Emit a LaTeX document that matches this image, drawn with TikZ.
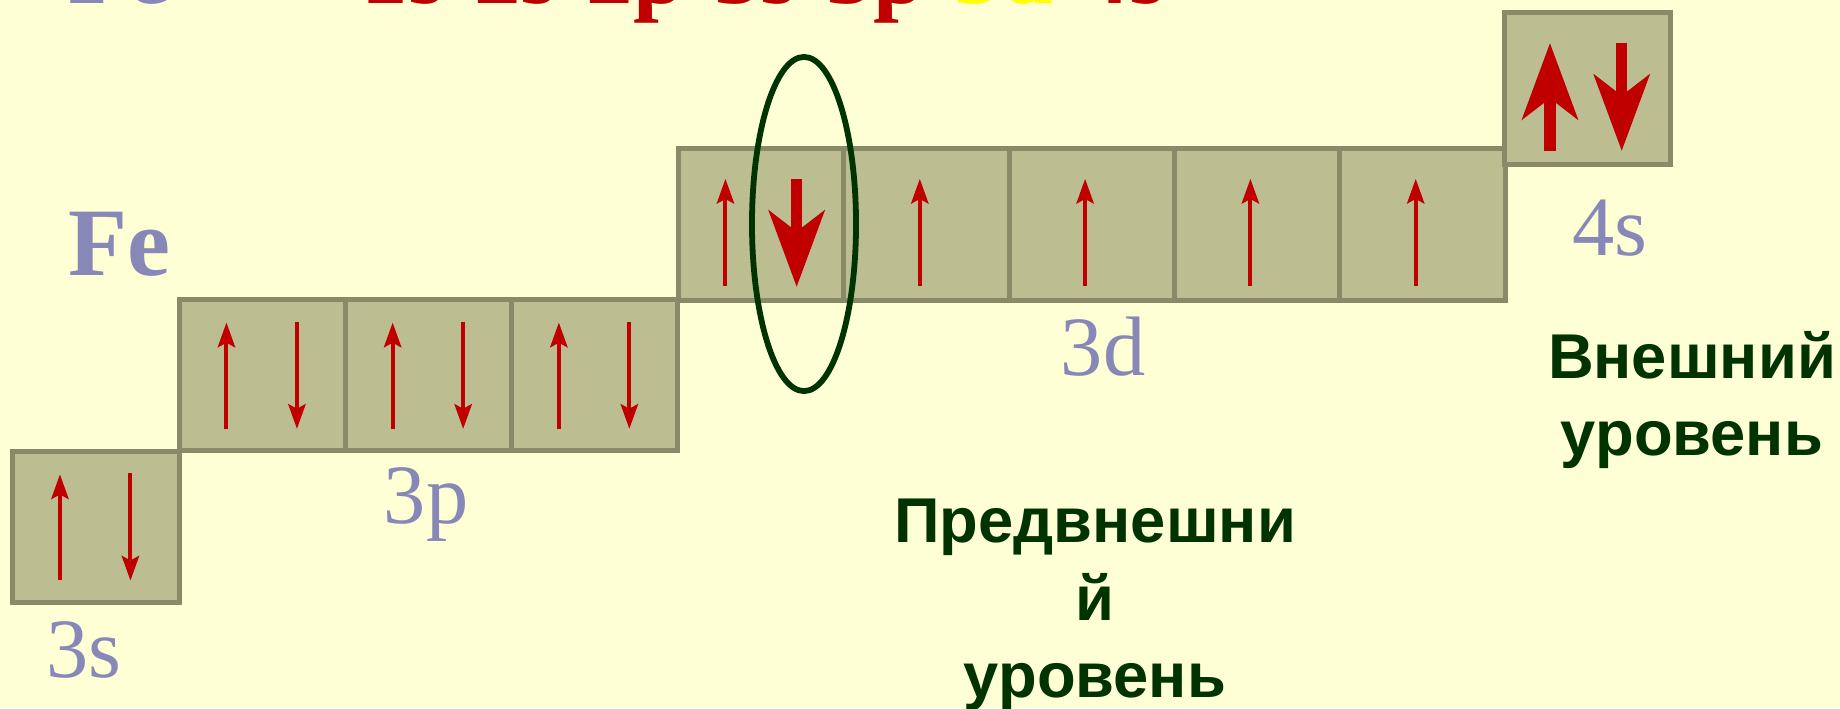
\documentclass[tikz,border=0pt]{standalone}
\usepackage{fontspec}
\setmainfont{Liberation Serif}
\newfontfamily\cyrsans{Liberation Sans}
\usetikzlibrary{arrows.meta,shapes.geometric,calc}
\definecolor{bgc}{RGB}{255,255,214}
\definecolor{boxfill}{RGB}{188,190,146}
\definecolor{boxline}{RGB}{136,138,104}
\definecolor{labelc}{RGB}{136,136,184}
\definecolor{spinred}{RGB}{192,0,0}
\definecolor{lvlgreen}{RGB}{0,51,0}
\definecolor{cfgyellow}{RGB}{255,255,0}
\newcommand\supn[1]{\raisebox{0.42em}{\fontsize{17}{17}\selectfont #1}}
\tikzset{
  orb/.style={draw=boxline, fill=boxfill, line width=0.05cm, minimum width=1.66cm,
    minimum height=1.51cm, inner sep=0pt, outer sep=0pt},
  spin/.style={draw=spinred, line width=0.04cm,
    -{Stealth[length=0.25cm, width=0.18cm, inset=0.05cm, line width=0pt]}},
  bigspin/.style={draw=spinred, line width=0.115cm,
    -{Stealth[length=0.77cm, width=0.57cm, inset=0.22cm, line width=0pt]}},
  sublabel/.style={text=labelc, font=\fontsize{24}{28}\selectfont, inner sep=0pt, anchor=base},
  lvl/.style={text=lvlgreen, font=\cyrsans\bfseries\fontsize{18}{21.9}\selectfont,
    align=center, inner sep=0pt, anchor=base},
}
\newcommand\pairspin[1]{%
  \draw[spin] ($(#1.north west)+(47,129)$) -- ++(0,-106);
  \draw[spin] ($(#1.north west)+(117.5,22)$) -- ++(0,107);}
\begin{document}
\begin{tikzpicture}[x=0.01cm, y=-0.01cm]
\useasboundingbox (0,0) rectangle (1840,708);
\clip (0,0) rectangle (1840,708);
\fill[bgc] (0,0) rectangle (1840,708);

% clipped formula at the top
\node[anchor=base west, inner sep=0pt, text=labelc, font=\bfseries\fontsize{27.5}{30}\selectfont] (feTop) at (68,3) {Fe};
\node[anchor=base west, inner sep=0pt, font=\bfseries\fontsize{26.4}{30}\selectfont] (cfg) at (361,3)
  {\textcolor{spinred}{1s\supn{2}2s\supn{2}2p\supn{6}3s\supn{2}3p\supn{6}}\textcolor{cfgyellow}{3d\supn{6}}\textcolor{spinred}{4s\supn{2}}};

% orbital boxes
\node[orb] (s3) at (96,527) {};
\node[orb] (p1) at (262.5,375.25) {};
\node[orb] (p2) at (428.7,375.25) {};
\node[orb] (p3) at (594.9,375.25) {};
\node[orb] (d1) at (761.5,224.5) {};
\node[orb] (d2) at (926.8,224.5) {};
\node[orb] (d3) at (1092.1,224.5) {};
\node[orb] (d4) at (1257.4,224.5) {};
\node[orb] (d5) at (1422.7,224.5) {};
\node[orb] (s4) at (1587.75,88.5) {};

% spins
\pairspin{s3}
\pairspin{p1}
\pairspin{p2}
\pairspin{p3}
\draw[spin] ($(d1.north west)+(47,137.5)$) -- ++(0,-107.5);
\draw[bigspin] ($(d1.north west)+(118.2,30.3)$) -- ++(0,107.4);
\foreach \b in {d2,d3,d4,d5}{
  \draw[spin] ($(\b.north)+(-7,137.5)$) -- ++(0,-107.5);
}
\draw[bigspin] ($(s4.north west)+(45.25,138)$) -- ++(0,-107.7);
\draw[bigspin] ($(s4.north west)+(117,29.7)$) -- ++(0,108);

% ring
\node[draw=lvlgreen, line width=0.058cm, ellipse, minimum width=1.04cm, minimum height=3.34cm,
  inner sep=0pt] (ring) at (804,224) {};

% labels
\node[anchor=base west, inner sep=0pt, text=labelc, font=\bfseries\fontsize{27.5}{30}\selectfont] (fe) at (68,275) {Fe};
\node[sublabel] (l3s) at (84,677) {3s};
\node[sublabel] (l3p) at (426,523) {3p};
\node[sublabel] (l3d) at (1103,375) {3d};
\node[sublabel] (l4s) at (1610,255) {4s};

\node[lvl] (outer) at (1692,455) {Внешний\\уровень};
\node[lvl] (inner) at (1095,697) {Предвнешни\\й\\уровень};
\end{tikzpicture}
\end{document}
